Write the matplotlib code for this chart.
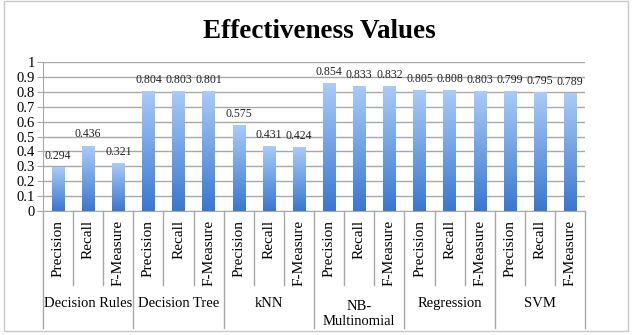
import matplotlib
matplotlib.use("Agg")
import matplotlib.pyplot as plt
import numpy as np
from matplotlib.colors import LinearSegmentedColormap
from matplotlib.patches import Rectangle

# chart data
groups = ['Decision Rules', 'Decision Tree', 'kNN', 'NB-\nMultinomial', 'Regression', 'SVM']
measures = ['Precision', 'Recall', 'F-Measure']
values = [0.294, 0.436, 0.321,
          0.804, 0.803, 0.801,
          0.575, 0.431, 0.424,
          0.854, 0.833, 0.832,
          0.805, 0.808, 0.803,
          0.799, 0.795, 0.789]
y_ticks = [0, 0.1, 0.2, 0.3, 0.4, 0.5, 0.6, 0.7, 0.8, 0.9, 1]
y_tick_labels = ['0', '0.1', '0.2', '0.3', '0.4', '0.5', '0.6', '0.7', '0.8', '0.9', '1']

plt.rcParams['font.family'] = ['Liberation Serif', 'DejaVu Serif']

fig = plt.figure(figsize=(6.32, 3.35), dpi=100)
fig.patch.set_facecolor('white')

# light grey frame around the whole chart
fig.patches.append(Rectangle((0.006, 0.012), 0.988, 0.985, transform=fig.transFigure,
                             fill=False, edgecolor='#c8c8c8', lw=1.0))

ax = fig.add_axes([0.068, 0.370, 0.858, 0.445])

n = len(values)
x = np.arange(n)
bar_w = 0.41

# gradient: light blue at top, darker blue at the bottom
cmap = LinearSegmentedColormap.from_list('bar_grad', ['#3a77cf', '#a9cbf7'])
grad = np.linspace(0, 1, 256).reshape(-1, 1)

bars = ax.bar(x, values, width=bar_w, color='none', edgecolor='none', zorder=2)
for b in bars:
    x0 = b.get_x()
    h = b.get_height()
    ax.imshow(grad, cmap=cmap, origin='lower', aspect='auto',
              extent=[x0, x0 + bar_w, 0, h], zorder=2, interpolation='bicubic')

for xi, v in zip(x, values):
    ax.annotate('%.3f' % v, (xi, v), xytext=(0, 4), textcoords='offset points',
                ha='center', va='bottom', fontsize=8.5, color='#222222')

ax.set_xlim(-0.5, n - 0.5)
ax.set_ylim(0, 1)
ax.set_yticks(y_ticks)
ax.set_yticklabels(y_tick_labels, fontsize=10.5)
ax.yaxis.grid(True, color='#a8a8a8', lw=1.0)
ax.set_axisbelow(True)
ax.tick_params(axis='y', length=4, color='#a8a8a8', pad=2)
ax.tick_params(axis='x', length=0, labelbottom=False)

for side in ['top', 'right']:
    ax.spines[side].set_visible(False)
ax.spines['left'].set_color('#a8a8a8')
ax.spines['bottom'].set_color('#a8a8a8')

# category axis: measure labels, inner and group separators
tr = ax.get_xaxis_transform()
for i in range(n):
    ax.text(x[i], -0.06, measures[i % 3], rotation=90, ha='center', va='top',
            fontsize=11, transform=tr, clip_on=False)
    if i % 3 != 2:
        ax.plot([i + 0.5, i + 0.5], [0, -0.497], color='#a8a8a8', lw=1.0,
                transform=tr, clip_on=False)

for g in range(len(groups) + 1):
    xs = g * 3 - 0.5
    ax.plot([xs, xs], [0, -0.785], color='#a8a8a8', lw=1.0,
            transform=tr, clip_on=False)

for g, name in enumerate(groups):
    yy = -0.617 if '\n' not in name else -0.69
    ax.text(g * 3 + 1, yy, name, ha='center', va='center', fontsize=10.5,
            transform=tr, clip_on=False, linespacing=1.25)

fig.text(0.506, 0.905, 'Effectiveness Values', ha='center', va='center',
         fontsize=19.5, fontweight='bold')

fig.savefig('out.png', dpi=100)
